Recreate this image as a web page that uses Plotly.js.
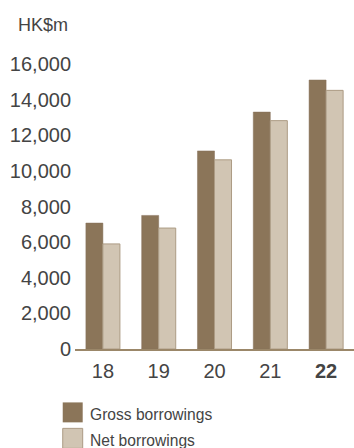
<!DOCTYPE html>
<html>
<head>
<meta charset="utf-8">
<script src="https://cdn.plot.ly/plotly-3.0.1.min.js"></script>
<style>html,body{margin:0;padding:0;background:#fff;}#chart{width:354px;height:448px;}</style>
</head>
<body>
<div id="chart"></div>
<script>
const years = ["18", "19", "20", "21", "22"];
const yearLabels = ["18", "19", "20", "21", "<b>22</b>"];
const grossBorrowings = [7070, 7500, 11120, 13300, 15100];
const netBorrowings = [5900, 6790, 10620, 12820, 14520];
const yTicks = [0, 2000, 4000, 6000, 8000, 10000, 12000, 14000, 16000];
const yTickLabels = ["0", "2,000", "4,000", "6,000", "8,000", "10,000", "12,000", "14,000", "16,000"];
const seriesNames = ["Gross borrowings", "Net borrowings"];
const unitLabel = "HK$m";

const grossColor = "#8b7559";
const netColor = "#d1c5b3";
const font = "Liberation Sans, Arial, Helvetica, sans-serif";

const traces = [
  {type: "bar", x: years, y: grossBorrowings, name: seriesNames[0],
   marker: {color: grossColor, line: {color: "#86705a", width: 0.5}}, hoverinfo: "skip"},
  {type: "bar", x: years, y: netBorrowings, name: seriesNames[1],
   marker: {color: netColor, line: {color: "#ac9b84", width: 1}}, hoverinfo: "skip"}
];

const layout = {
  width: 354, height: 448,
  margin: {l: 75, r: 0, t: 64, b: 98.5},
  paper_bgcolor: "#fff", plot_bgcolor: "#fff",
  barmode: "group", bargap: 0.39, bargroupgap: 0,
  showlegend: false,
  font: {family: font, color: "#444"},
  xaxis: {
    type: "category", tickvals: years, ticktext: yearLabels,
    range: [-0.5, 4.5],
    showline: true, linecolor: "#9b8769", linewidth: 1.5,
    showgrid: false, zeroline: false, ticks: "",
    tickfont: {size: 20, color: "#444", family: font}, ticklabelstandoff: 3
  },
  yaxis: {
    range: [0, 16000], tickvals: yTicks, ticktext: yTickLabels,
    showgrid: false, zeroline: false, showline: false,
    ticks: "", ticklabelstandoff: 3,
    tickfont: {size: 20, color: "#444", family: font}
  },
  annotations: [
    {text: unitLabel, xref: "paper", yref: "paper", x: -0.0185, y: 1.0, yshift: 39,
     xanchor: "right", yanchor: "middle", showarrow: false,
     font: {size: 18, color: "#444", family: font}},
    {text: seriesNames[0], xref: "paper", yref: "paper", x: 0.048, y: 0, yshift: -65,
     xanchor: "left", yanchor: "middle", showarrow: false,
     font: {size: 15.6, color: "#444", family: font}},
    {text: seriesNames[1], xref: "paper", yref: "paper", x: 0.048, y: 0, yshift: -91,
     xanchor: "left", yanchor: "middle", showarrow: false,
     font: {size: 15.6, color: "#444", family: font}}
  ],
  shapes: [
    {type: "rect", xref: "paper", yref: "paper", x0: -0.044, x1: 0.0276, y0: -0.2574, y1: -0.1874,
     fillcolor: grossColor, line: {width: 0}},
    {type: "rect", xref: "paper", yref: "paper", x0: -0.044, x1: 0.0276, y0: -0.3485, y1: -0.2785,
     fillcolor: netColor, line: {width: 1, color: "#ac9b84"}}
  ]
};

Plotly.newPlot("chart", traces, layout, {staticPlot: true, displayModeBar: false});
</script>
</body>
</html>
